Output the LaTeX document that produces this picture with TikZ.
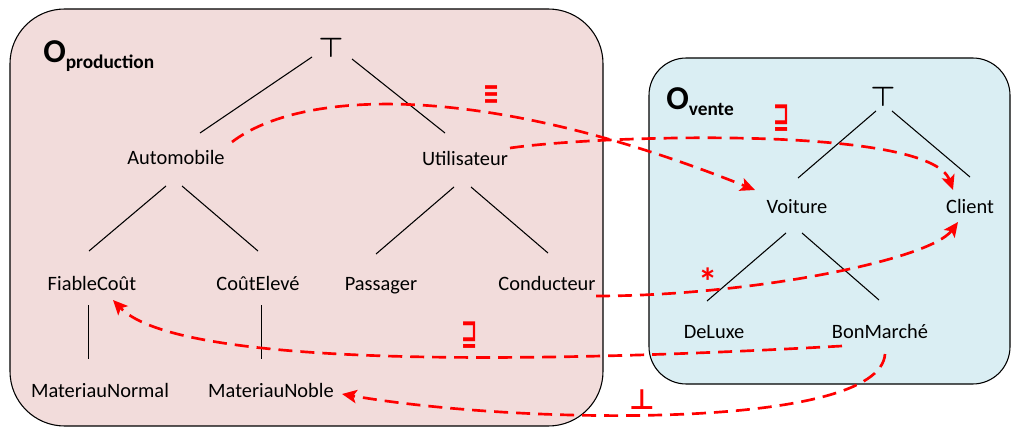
\documentclass[tikz,border=0pt]{standalone}
\usepackage{fontspec}
\setmainfont{Carlito}
\newfontfamily\symfont{DejaVu Sans}
\usepackage{amsmath}
\usetikzlibrary{arrows.meta,calc}
\definecolor{prodfill}{HTML}{F2DCDB}
\definecolor{ventefill}{HTML}{DAEEF3}
\definecolor{mapred}{HTML}{FF0000}

\begin{document}
\begin{tikzpicture}[x=0.75pt,y=-0.75pt,
    concept/.style={anchor=base, font=\fontsize{15.3}{18}\selectfont, inner sep=0pt},
    topnode/.style={font=\fontsize{22}{26}\selectfont\boldmath, inner sep=0pt},
    tree/.style={line width=0.8pt},
    mapping/.style={mapred, line width=2pt, dash pattern=on 10.5pt off 6pt,
        -{Stealth[length=11pt,width=10pt,inset=2.5pt]}},
    maplabel/.style={text=mapred, inner sep=0pt, font=\symfont\bfseries},
    ontology/.style={draw=black, line width=0.8pt}]
    \useasboundingbox (0,0) rectangle (1011,428);
    % the two ontologies
    \filldraw[ontology, fill=prodfill, rounded corners=41pt] (10,9) rectangle (603,426);
    \filldraw[ontology, fill=ventefill, rounded corners=28pt] (649,58) rectangle (1010,384);
    \node[anchor=base west, inner sep=0pt] (oprod) at (43,63)
        {\bfseries\fontsize{25}{30}\selectfont O\raisebox{-4pt}{\fontsize{14.5}{17}\selectfont production}};
    \node[anchor=base west, inner sep=0pt] (ovente) at (666,110)
        {\bfseries\fontsize{25}{30}\selectfont O\raisebox{-4pt}{\fontsize{14.5}{17}\selectfont vente}};

    % O_production
    \node[topnode] (topP) at (331,48) {$\top$};
    \node[concept] (auto) at (176,165) {Automobile};
    \node[concept] (util) at (465,166) {Utilisateur};
    \node[concept] (fiab) at (92,290) {FiableCoût};
    \node[concept] (cher) at (258,290) {CoûtElevé};
    \node[concept] (pass) at (381,290) {Passager};
    \node[concept] (cond) at (547,290) {Conducteur};
    \node[concept] (mnorm) at (100,397) {MateriauNormal};
    \node[concept] (mnob) at (271,397) {MateriauNoble};
    \draw[tree] ($(topP)+(-19,9)$) -- ($(auto.base)+(24,-32)$);
    \draw[tree] ($(topP)+(21,11)$) -- ($(util.base)+(-20,-33)$);
    \draw[tree] ($(auto.base)+(-10,21)$) -- ($(fiab.base)+(-3,-39)$);
    \draw[tree] ($(auto.base)+(6,21)$) -- ($(cher.base)+(0,-39)$);
    \draw[tree] ($(util.base)+(-11,21)$) -- ($(pass.base)+(-5,-36)$);
    \draw[tree] ($(util.base)+(6,21)$) -- ($(cond.base)+(1,-37)$);
    \draw[tree] ($(fiab.base)+(-3.5,15)$) -- ($(mnorm.base)+(-11.5,-38)$);
    \draw[tree] ($(cher.base)+(3.5,15)$) -- ($(mnob.base)+(-9.5,-38)$);

    % O_vente
    \node[topnode] (topV) at (883,97) {$\top$};
    \node[concept] (voit) at (797,213) {Voiture};
    \node[concept] (client) at (970,213) {Client};
    \node[concept] (lux) at (714,338) {DeLuxe};
    \node[concept] (bon) at (880,338) {BonMarché};
    \draw[tree] ($(topV)+(-7,14)$) -- ($(voit.base)+(1,-35)$);
    \draw[tree] ($(topV)+(9,14)$) -- ($(client.base)+(0,-36)$);
    \draw[tree] ($(voit.base)+(-11,20)$) -- ($(lux.base)+(-7,-37)$);
    \draw[tree] ($(voit.base)+(5,20)$) -- ($(bon.base)+(-1,-38)$);

    % correspondances
    \draw[mapping] ($(auto.base)+(56,-23)$) .. controls (300,90) and (480,80) .. ($(voit.base)+(-42,-23)$);
    \draw[mapping] ($(util.base)+(45,-18)$) .. controls (600,135) and (930,125) .. ($(client.base)+(-17,-23)$);
    \draw[mapping] ($(cond.base)+(49,6)$) .. controls (750,296) and (930,260) .. ($(client.base)+(-12,9)$);
    \draw[mapping] ($(bon.base)+(-38,8)$) .. controls (450,368) and (170,360) .. ($(fiab.base)+(21,10)$);
    \draw[mapping] ($(bon.base)+(5,16)$) .. controls (880,430) and (520,425) .. ($(mnob.base)+(71,-3)$);
    \node[maplabel] (eqv) at (492,95) {\fontsize{16}{18}\selectfont\scalebox{0.9}[1.5]{≡}};
    \node[maplabel] (subTop) at (782,118) {\fontsize{17}{20}\selectfont\scalebox{0.85}[1.5]{⊒}};
    \node[maplabel] (star) at (708,282) {\fontsize{29}{31}\selectfont\bfseries\rmfamily *};
    \node[maplabel] (subBot) at (470,335) {\fontsize{17}{20}\selectfont\scalebox{0.85}[1.5]{⊒}};
    \node[maplabel] (disj) at (642,400) {\fontsize{21}{24}\selectfont ⊥};
\end{tikzpicture}
\end{document}
